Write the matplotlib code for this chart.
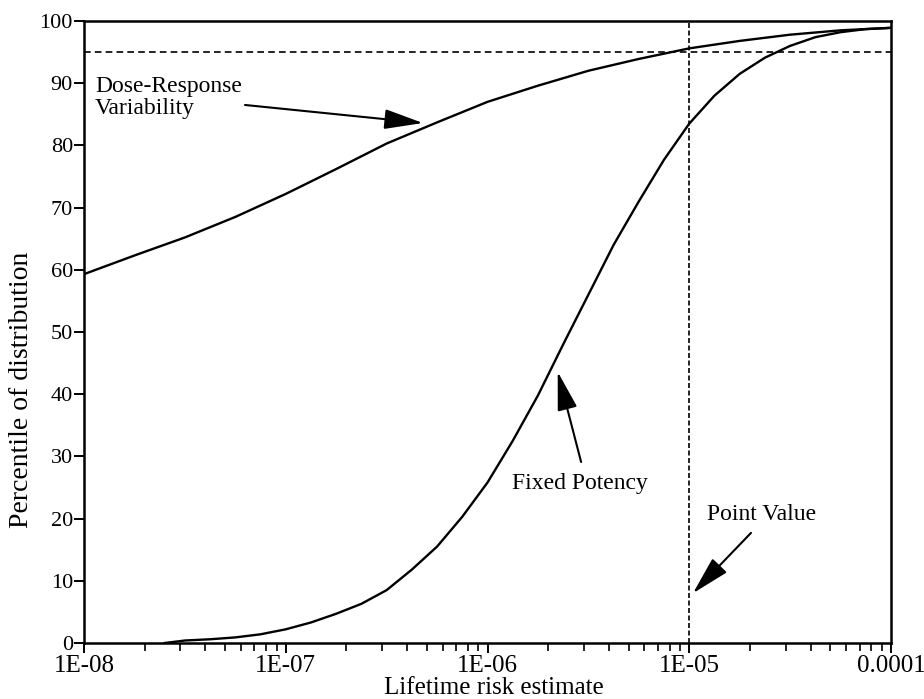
import matplotlib
matplotlib.use("Agg")
import matplotlib.pyplot as plt
import numpy as np

plt.rcParams['font.family'] = ['Liberation Serif', 'DejaVu Serif']

# Dose-Response Variability curve (risk, percentile)
dr_risk = [1e-8, 10**-7.75, 10**-7.5, 10**-7.25, 1e-7, 10**-6.75, 10**-6.5, 10**-6.25,
           1e-6, 10**-5.75, 10**-5.5, 10**-5.25, 1e-5, 10**-4.75, 10**-4.5, 10**-4.25, 1e-4]
dr_pct = [59.3, 62.3, 65.2, 68.5, 72.2, 76.2, 80.3, 83.7,
          87.0, 89.6, 92.0, 93.9, 95.6, 96.8, 97.8, 98.5, 98.9]

# Fixed Potency curve (risk, percentile)
fp_log = [-7.6, -7.5, -7.375, -7.25, -7.125, -7.0, -6.875, -6.75, -6.625, -6.5,
          -6.375, -6.25, -6.125, -6.0, -5.875, -5.75, -5.625, -5.5, -5.375, -5.25,
          -5.125, -5.0, -4.875, -4.75, -4.625, -4.5, -4.375, -4.25, -4.125, -4.0]
fp_pct = [0.0, 0.4, 0.6, 0.9, 1.4, 2.2, 3.3, 4.7, 6.3, 8.5,
          11.8, 15.5, 20.3, 25.8, 32.5, 39.8, 48.0, 56.0, 64.0, 71.0,
          77.7, 83.5, 88.0, 91.5, 94.1, 96.0, 97.4, 98.2, 98.7, 98.9]
fp_risk = [10**v for v in fp_log]

point_value = 1e-5
pct_line = 95

xticks = [1e-8, 1e-7, 1e-6, 1e-5, 1e-4]
xticklabels = ["1E-08", "1E-07", "1E-06", "1E-05", "0.0001"]
yticks = list(range(0, 101, 10))

fig = plt.figure(figsize=(9.24, 6.99), dpi=100)
ax = fig.add_axes([84/924, 1-643/699, 807/924, 622/699])

ax.plot(dr_risk, dr_pct, color='black', lw=1.7, solid_joinstyle='round')
ax.plot(fp_risk, fp_pct, color='black', lw=1.7, solid_joinstyle='round')
ax.axhline(pct_line, color='black', lw=1.2, ls=(0, (4, 2.5)))
ax.axvline(point_value, color='black', lw=1.2, ls=(0, (3, 1.5)))

ax.set_xscale('log')
ax.set_xlim(1e-8, 1e-4)
ax.set_ylim(0, 100)
ax.set_xticks(xticks)
ax.set_xticklabels(xticklabels)
ax.set_yticks(yticks)
ax.tick_params(axis='both', which='major', direction='out', length=7, width=1.4,
               colors='black')
ax.tick_params(axis='x', which='major', labelsize=18, pad=2)
ax.tick_params(axis='y', which='major', labelsize=16, pad=1)
ax.tick_params(axis='x', which='minor', direction='out', length=6, width=1.2)
for s in ax.spines.values():
    s.set_linewidth(1.8)

fig.text(384/924, 1-688/699, "Lifetime risk estimate", fontsize=18,
         ha='left', va='center')
fig.text(22/924, 1-390/699, "Percentile of distribution", fontsize=20,
         ha='center', va='center', rotation=90)

ax.text(0.0136, 0.912, "Dose-Response\nVariability", transform=ax.transAxes,
        fontsize=17, va='top', ha='left', linespacing=1.05)
ax.text(0.615, 0.257, "Fixed Potency", transform=ax.transAxes,
        fontsize=17, va='center', ha='center')
ax.text(0.839, 0.206, "Point Value", transform=ax.transAxes,
        fontsize=17, va='center', ha='center')

aprops = dict(arrowstyle='-|>,head_length=2.4,head_width=0.62', color='black',
              lw=1.5, shrinkA=0, shrinkB=0)
ax.annotate("", xy=(0.420, 0.836), xytext=(0.1995, 0.865),
            xycoords='axes fraction', textcoords='axes fraction', arrowprops=aprops)
ax.annotate("", xy=(0.587, 0.436), xytext=(0.616, 0.291),
            xycoords='axes fraction', textcoords='axes fraction', arrowprops=aprops)
ax.annotate("", xy=(0.7546, 0.080), xytext=(0.8265, 0.177),
            xycoords='axes fraction', textcoords='axes fraction', arrowprops=aprops)

fig.savefig("out.png", dpi=100)
